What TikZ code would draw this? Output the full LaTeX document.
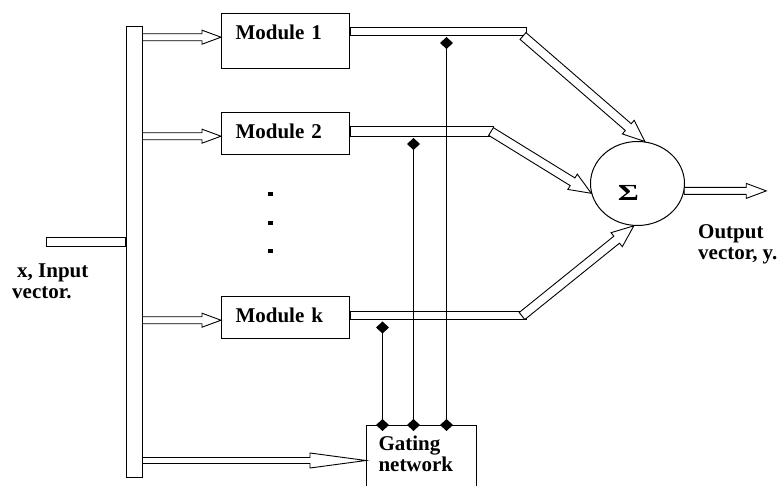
\documentclass[tikz,border=0pt]{standalone}
\usepackage{fontspec}
\setmainfont{Liberation Serif}
\usepackage{graphicx}
\usepackage{tikz}
\usetikzlibrary{shapes.geometric,positioning,calc,arrows.meta}

\begin{document}
\begin{tikzpicture}[x=1pt, y=-1pt, node distance=40pt, auto,
    every node/.style={font=\fontsize{21}{21}\selectfont\bfseries},
    box/.style={rectangle, draw=black, line width=1pt, inner xsep=14pt, inner ysep=13pt, text width=100pt, align=left, text height=13pt, text depth=3pt},
    tube/.style={rectangle, draw=black, line width=1pt, fill=white, inner sep=0pt, minimum height=8pt},
    harrow/.style n args={3}{draw=black, fill=white, line width=0.9pt, to path={
        let \p1=(\tikztostart), \p2=(\tikztotarget),
            \n1={atan2(\y2-\y1,\x2-\x1)}, \n2={\n1+90}, \n3={\n1-90}, \n4={\n1+180} in
        ($(\p1)+(\n2:#1)$) -- ($(\p2)+(\n4:#3)+(\n2:#1)$) -- ($(\p2)+(\n4:#3)+(\n2:#2)$) -- (\p2)
        -- ($(\p2)+(\n4:#3)+(\n3:#2)$) -- ($(\p2)+(\n4:#3)+(\n3:#1)$) -- ($(\p1)+(\n3:#1)$) -- cycle}},
    gateline/.style={line width=1.1pt, {Diamond[length=12pt,width=13pt]}-{Diamond[length=12pt,width=13pt]}, shorten <=1pt, shorten >=-6pt},
    dot/.style={rectangle, fill=black, inner sep=0pt, minimum size=4.5pt}]
    \useasboundingbox (0,0) rectangle (782,486);
    \clip (0,0) rectangle (782,486);

    % Input bus - left
    \node [rectangle, draw=black, line width=1pt, minimum width=16pt, minimum height=450pt, inner sep=0pt] (bus) at (134,252) {};

    % Input vector x
    \node [tube, minimum width=79pt, minimum height=9pt, anchor=east] (inp) at ([yshift=9.5pt]bus.west) {};
    \node [anchor=north west, align=left, inner sep=0pt] (xlbl) at (12,263.5) {\hspace*{5pt}x, Input\\vector.};

    % Expert modules - stacked
    \node [box, text depth=16pt, anchor=north west] (m1) at (221,13) {Module 1};
    \node [box, below=43pt of m1] (m2) {Module 2};
    \node [box, below=141pt of m2] (mk) {Module k};
    \foreach \y in {194,223,251}
        \node [dot] at (270.5,\y) {};

    % Gating network - bottom
    \node [box, text width=86pt, inner xsep=12pt, inner ysep=12pt, text height=13pt, text depth=33pt, below=86pt of mk, xshift=136pt] (gate) {Gating\\network};

    % Module outputs
    \node [tube, minimum width=176pt, anchor=west] (p1) at ([yshift=9.5pt]m1.east) {};
    \node [tube, minimum width=143pt, minimum height=10pt, anchor=west] (p2) at ([yshift=2pt]m2.east) {};
    \node [tube, minimum width=176pt, anchor=west] (pk) at ([yshift=1.5pt]mk.east) {};

    % Summing unit
    \node [ellipse, draw=black, line width=1pt, minimum width=94pt, minimum height=84pt, inner sep=0pt, right=240pt of m2, yshift=-50pt,
        label={[xshift=-9pt, yshift=-9pt, font=\fontsize{23}{23}\selectfont\bfseries]center:\scalebox{1.4}[1]{Σ}}] (sum) {};
    \coordinate (yout) at ([xshift=82pt]sum.-9);
    \node [anchor=north west, align=left, inner sep=0pt] (ylbl) at (698,224) {Output\\vector, y.};

    % Bus to modules and gate
    \foreach \m in {m1,m2,mk}
        \draw [harrow={3.5pt}{7pt}{19pt}] (bus.east |- \m.mid west) to (\m.mid west);
    \draw [harrow={3pt}{7.5pt}{56pt}] (bus.east |- gate.west) to (gate.west);

    % Modules to sum
    \draw [harrow={4.5pt}{9pt}{22pt}] ([xshift=-4pt]p1.south east) to (sum.80);
    \draw [harrow={4.5pt}{9pt}{22pt}] ([xshift=-3pt]p2.east) to (sum.192);
    \draw [harrow={4.5pt}{9pt}{22pt}] ([xshift=-5pt]pk.east) to (sum.265);
    \draw [harrow={3.5pt}{7.5pt}{20pt}] (sum.-9) to (yout);

    % Gating weights
    \coordinate (g1) at ([xshift=25pt]gate.north);
    \coordinate (g2) at ([xshift=-8pt]gate.north);
    \coordinate (gk) at ([xshift=-39pt]gate.north);
    \draw [gateline] (g1 |- p1.south) -- (g1);
    \draw [gateline] (g2 |- p2.south) -- (g2);
    \draw [gateline] (gk |- pk.south) -- (gk);

\end{tikzpicture}
\end{document}
